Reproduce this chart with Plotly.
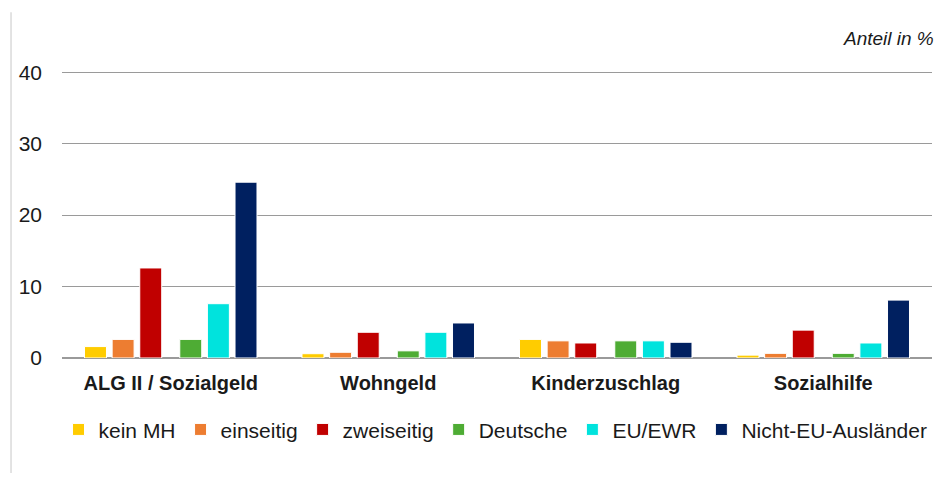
import plotly.graph_objects as go

categories = ["ALG II / Sozialgeld", "Wohngeld", "Kinderzuschlag", "Sozialhilfe"]

series_names = ["kein MH", "einseitig", "zweiseitig", "Deutsche", "EU/EWR", "Nicht-EU-Ausländer"]
kein_mh = [1.6, 0.6, 2.6, 0.4]
einseitig = [2.6, 0.8, 2.4, 0.65]
zweiseitig = [12.6, 3.6, 2.1, 3.9]
deutsche = [2.6, 1.0, 2.4, 0.65]
eu_ewr = [7.6, 3.6, 2.4, 2.1]
nicht_eu = [24.6, 4.9, 2.2, 8.1]

y_ticks = [0, 10, 20, 30, 40]

colors = ["#FFCC00", "#ED7D31", "#C00000", "#4EAC34", "#00E3DD", "#002060"]
values = [kein_mh, einseitig, zweiseitig, deutsche, eu_ewr, nicht_eu]

# bar layout inside one category (category units): width, pitch, half of middle gap
bar_w = 0.101
pitch = 0.127
half_gap = 0.0415
offsets = [-half_gap - bar_w - 2 * pitch, -half_gap - bar_w - pitch, -half_gap - bar_w,
           half_gap, half_gap + pitch, half_gap + 2 * pitch]

font_family = "Liberation Sans, Arial, sans-serif"

fig = go.Figure()

for name, vals, col, off in zip(series_names, values, colors, offsets):
    fig.add_trace(go.Bar(
        x=categories,
        y=vals,
        name=name,
        offset=off,
        width=bar_w,
        marker_color=col,
        marker_line_color="white",
        marker_line_width=1,
    ))

# page body has an 8px margin, so the figure is sized to fit the window
fig.update_layout(
    barmode="overlay",
    width=934,
    height=465,
    margin=dict(l=54, r=10, t=57, b=115),
    plot_bgcolor="white",
    paper_bgcolor="white",
    font=dict(family=font_family, size=20, color="#1a1a1a"),
    legend=dict(
        orientation="h",
        x=-0.004,
        xanchor="left",
        y=-0.175,
        yanchor="top",
        font=dict(size=21),
        itemclick=False,
    ),
    showlegend=True,
)

fig.update_xaxes(
    showgrid=False,
    showline=False,
    ticks="",
    tickfont=dict(size=20, family=font_family, color="#1a1a1a"),
    ticklabelstandoff=11,
    tickprefix="<b>",
    ticksuffix="</b>",
)

fig.update_yaxes(
    range=[0, 41],
    tickvals=y_ticks,
    showgrid=True,
    gridcolor="#9a9a9a",
    gridwidth=1,
    zeroline=True,
    zerolinecolor="#9a9a9a",
    zerolinewidth=1.5,
    showline=False,
    ticks="",
    ticklabelstandoff=19,
    tickfont=dict(size=21),
)

fig.add_annotation(
    text="<i>Anteil in %</i>",
    xref="paper", yref="paper",
    x=1, y=1,
    xanchor="right", yanchor="middle",
    xshift=4, yshift=27,
    showarrow=False,
    font=dict(size=19, color="#1a1a1a"),
)

# thin frame line on the left edge
fig.add_shape(
    type="line",
    xref="paper", yref="paper",
    x0=-0.0586, x1=-0.0586, y0=-0.42, y1=1.18,
    line=dict(color="#c8c8c8", width=1),
)

fig.write_html("out.html")
